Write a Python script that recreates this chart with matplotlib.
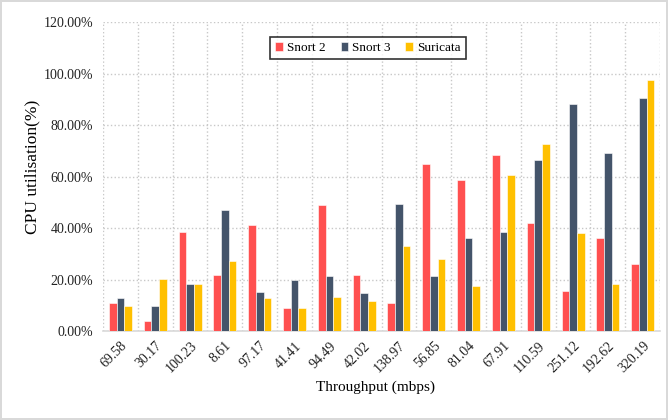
import numpy as np
import matplotlib
matplotlib.use("Agg")
import matplotlib.pyplot as plt
from matplotlib.ticker import FuncFormatter, FixedLocator

plt.rcParams['font.family'] = ['Liberation Serif', 'DejaVu Serif']

# data (CPU utilisation, %)
throughput = ['69.58', '30.17', '100.23', '8.61', '97.17', '41.41', '94.49', '42.02',
              '138.97', '56.85', '81.04', '67.91', '110.59', '251.12', '192.62', '320.19']
snort2 = [11.0, 3.9, 38.3, 21.7, 41.3, 9.1, 48.8, 21.7, 11.0, 65.0, 58.8, 68.5, 42.0, 15.7, 36.2, 26.1]
snort3 = [13.0, 9.9, 18.2, 46.8, 15.1, 19.9, 21.2, 14.7, 49.4, 21.2, 36.1, 38.3, 66.3, 88.0, 69.2, 90.4]
suricata = [9.9, 20.3, 18.4, 27.0, 13.0, 9.1, 13.1, 11.8, 33.0, 28.1, 17.3, 60.4, 72.5, 38.0, 18.2, 97.3]

series = [('Snort 2', snort2, '#FF5050'),
          ('Snort 3', snort3, '#44546A'),
          ('Suricata', suricata, '#FFC000')]

fig = plt.figure(figsize=(6.68, 4.20), dpi=100)
fig.patch.set_edgecolor('#d9d9d9')
fig.patch.set_linewidth(1.5)
ax = fig.add_axes([0.1542, 0.2119, 0.834, 0.7357])

x = np.arange(len(throughput))
w = 0.22
for k, (name, vals, col) in enumerate(series):
    ax.bar(x + (k - 1) * w, np.array(vals) / 100, width=w, color=col,
           edgecolor='white', linewidth=0.4, label=name, zorder=3)

ax.set_xlim(-0.5, len(throughput) - 0.5)
ax.set_ylim(0, 1.2)
ax.set_yticks(np.arange(0, 1.21, 0.2))
ax.yaxis.set_major_formatter(FuncFormatter(lambda v, p: '%.2f%%' % (v * 100)))
ax.set_xticks(x)
ax.set_xticklabels(throughput, rotation=45, ha='right', rotation_mode='anchor')
ax.xaxis.set_minor_locator(FixedLocator(np.arange(-0.5, len(throughput), 1.0)))
ax.tick_params(axis='both', which='both', length=0, labelsize=10, colors='#222222')
ax.tick_params(axis='x', pad=6)
ax.tick_params(axis='y', pad=7)

ax.grid(axis='y', which='major', linestyle=':', color='#c8c8c8', linewidth=1, zorder=0)
ax.grid(axis='x', which='minor', linestyle=':', color='#c8c8c8', linewidth=1, zorder=0)
ax.grid(axis='x', which='major', visible=False)
for s in ['left', 'top', 'right']:
    ax.spines[s].set_visible(False)
ax.spines['bottom'].set_color('#d9d9d9')
ax.spines['bottom'].set_linewidth(1.2)

ax.set_ylabel('CPU utilisation(%)', fontsize=12.5)
ax.yaxis.set_label_coords(-0.112, 0.53)
ax.set_xlabel('Throughput (mbps)', fontsize=11)
ax.xaxis.set_label_coords(0.49, -0.16)

leg = ax.legend(loc='upper center', bbox_to_anchor=(0.476, 0.952), ncol=3, fontsize=9.5,
                frameon=True, fancybox=False, handlelength=0.6, handleheight=0.6,
                handletextpad=0.3, columnspacing=1.1, borderpad=0.4, borderaxespad=0)
leg.get_frame().set_edgecolor('black')
leg.get_frame().set_linewidth(1.2)

fig.savefig('out.png', dpi=100, edgecolor=fig.get_edgecolor())
